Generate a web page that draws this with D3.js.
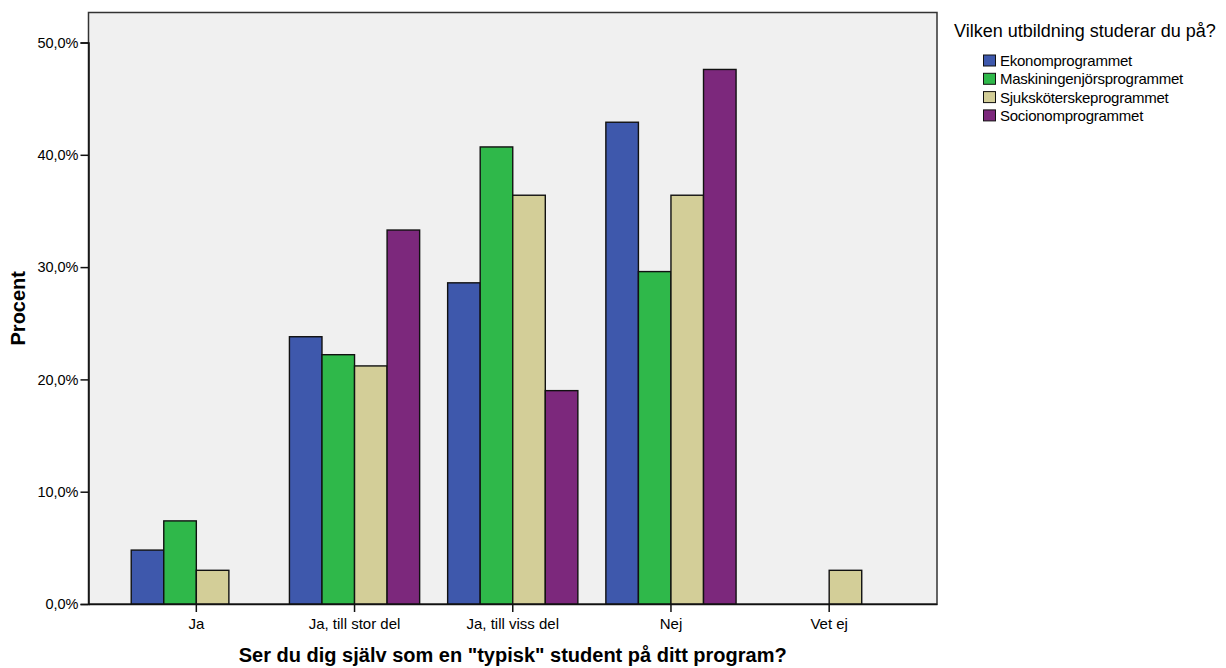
<!DOCTYPE html>
<html><head><meta charset="utf-8">
<script src="https://cdn.jsdelivr.net/npm/d3@7"></script>
<style>body{margin:0;background:#fff;}svg{display:block;font-family:"Liberation Sans",Arial,sans-serif;}</style>
</head><body><svg id="c" width="1226" height="668"></svg>
<script>
const categories = ["Ja", "Ja, till stor del", "Ja, till viss del", "Nej", "Vet ej"];
const seriesNames = ["Ekonomprogrammet", "Maskiningenjörsprogrammet", "Sjuksköterskeprogrammet", "Socionomprogrammet"];
const ekonom = [4.8, 23.8, 28.6, 42.9, 0];
const maskin = [7.4, 22.2, 40.7, 29.6, 0];
const sjuk = [3.0, 21.2, 36.4, 36.4, 3.0];
const socio = [0, 33.3, 19.0, 47.6, 0];
const yTicks = [0, 10, 20, 30, 40, 50];
const colors = ["#3e58ac", "#2fb84a", "#d3ce98", "#7c287c"];
const legendTitle = "Vilken utbildning studerar du på?";
const xTitle = 'Ser du dig själv som en "typisk" student på ditt program?';
const yTitle = "Procent";

const values = [ekonom, maskin, sjuk, socio];
const svg = d3.select("#c");
const L = 88.5, R = 937, T = 12.5, B = 604;
const x = d3.scaleBand().domain(categories).range([L, R]).paddingInner(0.177).paddingOuter(0.27);
const xs = d3.scaleBand().domain(seriesNames).range([0, x.bandwidth()]);
const y = d3.scaleLinear().domain([0, 50]).range([B, B - 5 * 112.3]);

svg.append("rect").attr("x", L).attr("y", T).attr("width", R - L).attr("height", B - T)
  .attr("fill", "#f0f0f0").attr("stroke", "#333").attr("stroke-width", 1.5);

const data = [];
categories.forEach((c, i) => seriesNames.forEach((s, j) => data.push({c, s, v: values[j][i], j})));
svg.append("g").selectAll("rect").data(data).join("rect")
  .attr("x", d => x(d.c) + xs(d.s))
  .attr("y", d => y(d.v))
  .attr("width", xs.bandwidth())
  .attr("height", d => B - y(d.v))
  .attr("fill", d => colors[d.j])
  .attr("stroke", "#111").attr("stroke-width", 1.4);

// y axis
const ya = d3.axisLeft(y).tickValues(yTicks).tickSize(8).tickFormat(d => d3.format(".1f")(d).replace(".", ",") + "%");
const gy = svg.append("g").attr("transform", `translate(${L},0)`).call(ya);
gy.select(".domain").attr("stroke", "#111").attr("stroke-width", 1.5);
gy.selectAll(".tick line").attr("stroke", "#111").attr("stroke-width", 1.5);
gy.selectAll(".tick text").attr("font-size", 14.5).attr("fill", "#000").attr("x", -10).attr("font-family", "Liberation Sans, Arial, sans-serif");

// x axis
const xa = d3.axisBottom(x).tickSize(8).tickSizeOuter(0);
const gx = svg.append("g").attr("transform", `translate(0,${B})`).call(xa);
gx.select(".domain").attr("stroke", "#111").attr("stroke-width", 1.5);
gx.selectAll(".tick line").attr("stroke", "#111").attr("stroke-width", 1.5);
gx.selectAll(".tick text").attr("font-size", 15).attr("fill", "#000").attr("y", 14).attr("font-family", "Liberation Sans, Arial, sans-serif");

svg.append("text").attr("x", (L + R) / 2).attr("y", 662).attr("text-anchor", "middle")
  .attr("font-size", 20).attr("font-weight", "bold").text(xTitle);
svg.append("text").attr("transform", `translate(25,${(T + B) / 2}) rotate(-90)`).attr("text-anchor", "middle")
  .attr("font-size", 20).attr("font-weight", "bold").text(yTitle);

// legend
svg.append("text").attr("x", 954).attr("y", 37).attr("font-size", 18).text(legendTitle);
const lg = svg.append("g").selectAll("g").data(seriesNames).join("g")
  .attr("transform", (d, i) => `translate(983.5,${55 + i * 18.3})`);
lg.append("rect").attr("width", 12).attr("height", 11).attr("fill", (d, i) => colors[i]).attr("stroke", "#111").attr("stroke-width", 1);
lg.append("text").attr("x", 16.5).attr("y", 11).attr("font-size", 15).attr("letter-spacing", -0.25).text(d => d);
</script></body></html>
